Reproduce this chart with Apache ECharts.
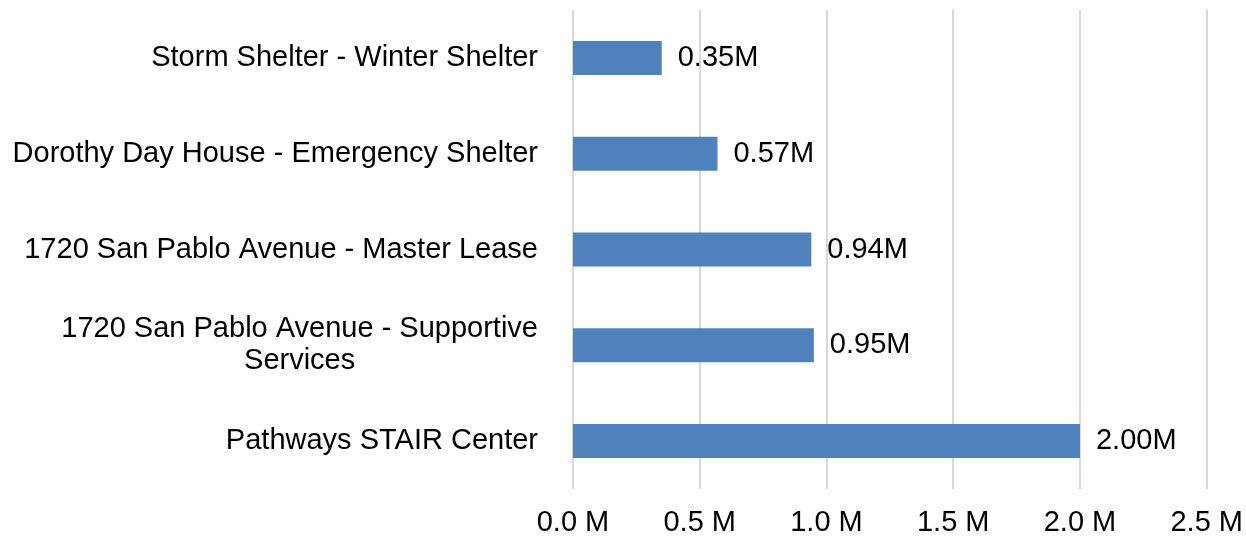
<!DOCTYPE html>
<html>
<head>
<meta charset="utf-8">
<script src="https://cdn.jsdelivr.net/npm/echarts@6/dist/echarts.min.js"></script>
<style>
  html, body { margin: 0; padding: 0; background: #fff; }
  #chart { width: 1246px; height: 539px; }
</style>
</head>
<body>
<div id="chart"></div>
<script>
// 项目名称（自上而下）
var categories = [
  'Storm Shelter - Winter Shelter',
  'Dorothy Day House - Emergency Shelter',
  '1720 San Pablo Avenue - Master Lease',
  '1720 San Pablo Avenue - Supportive Services',
  'Pathways STAIR Center'
];
// 金额（百万）
var amounts = [0.35, 0.57, 0.94, 0.95, 2.00];
// x 轴刻度
var tickValues = [0, 0.5, 1.0, 1.5, 2.0, 2.5];

var fontFamily = '"Liberation Sans", Arial, sans-serif';
var fontSize = 29;

// 过长的标签折成两行，每行居中
function wrapLabel(v) {
  var lines = [v];
  if (v.length > 40) {
    var cut = v.lastIndexOf(' ', 36);
    lines = [v.slice(0, cut), v.slice(cut + 1)];
  }
  return lines.map(function (s) { return '{c|' + s + '}'; }).join('\n');
}

var myChart = echarts.init(document.getElementById('chart'));
var option = {
  animation: false,
  grid: {
    left: 573,
    right: 39,
    top: 10,
    bottom: 50
  },
  xAxis: {
    type: 'value',
    min: tickValues[0],
    max: tickValues[tickValues.length - 1],
    interval: 0.5,
    axisLine: { show: false },
    axisTick: { show: false },
    splitLine: { lineStyle: { color: '#d9d9d9', width: 2 } },
    axisLabel: {
      color: '#000',
      fontSize: fontSize,
      fontFamily: fontFamily,
      margin: 19,
      formatter: function (v) { return v.toFixed(1) + ' M'; }
    }
  },
  yAxis: {
    type: 'category',
    inverse: true,
    data: categories,
    axisLine: { show: false },
    axisTick: { show: false },
    axisLabel: {
      color: '#000',
      fontSize: fontSize,
      fontFamily: fontFamily,
      margin: 35,
      lineHeight: 32,
      formatter: wrapLabel,
      rich: {
        c: {
          align: 'center',
          color: '#000',
          fontSize: fontSize,
          fontFamily: fontFamily,
          lineHeight: 32
        }
      }
    }
  },
  series: [{
    type: 'bar',
    data: amounts,
    barWidth: 34,
    itemStyle: { color: '#4f81bd' },
    label: {
      show: true,
      position: 'right',
      distance: 16,
      color: '#000',
      fontSize: fontSize,
      fontFamily: fontFamily,
      formatter: function (p) { return p.value.toFixed(2) + 'M'; }
    }
  }]
};
myChart.setOption(option);
</script>
</body>
</html>
